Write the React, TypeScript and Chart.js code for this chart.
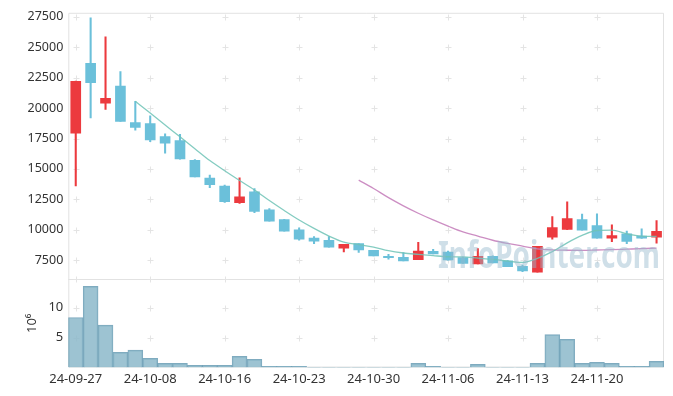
import React, { useEffect, useRef } from 'react';
import { Chart, registerables } from 'chart.js';

Chart.register(...registerables);

const dates = [
  '24-09-27', '24-09-30', '24-10-02', '24-10-04', '24-10-07',
  '24-10-08', '24-10-10', '24-10-11', '24-10-14', '24-10-15',
  '24-10-16', '24-10-17', '24-10-18', '24-10-21', '24-10-22',
  '24-10-23', '24-10-24', '24-10-25', '24-10-28', '24-10-29',
  '24-10-30', '24-10-31', '24-11-01', '24-11-04', '24-11-05',
  '24-11-06', '24-11-07', '24-11-08', '24-11-11', '24-11-12',
  '24-11-13', '24-11-14', '24-11-15', '24-11-18', '24-11-19',
  '24-11-20', '24-11-21', '24-11-22', '24-11-25', '24-11-26',
];

const opens = [
  17930, 23680, 20400, 21800, 18800, 18720, 17660, 17340, 15710, 14250,
  13600, 12220, 13110, 11650, 10830, 10000, 9310, 9130, 8480, 8860,
  8310, 7820, 7740, 7550, 8230, 8170, 7720, 7200, 7820, 7440,
  6990, 6520, 9390, 10020, 10830, 10350, 9310, 9670, 9480, 9390,
];
const highs = [
  22220, 27420, 25850, 23000, 20560, 19370, 17880, 17850, 15770, 14490,
  13680, 14270, 13380, 11750, 10850, 10160, 9450, 9450, 8800, 8860,
  8310, 7990, 8120, 8960, 8400, 8250, 7750, 8450, 7850, 7460,
  7100, 8640, 11080, 12300, 11300, 11320, 10400, 9890, 10070, 10750,
];
const lows = [
  13600, 19200, 19900, 18900, 18180, 17250, 16300, 15800, 14350, 13460,
  12240, 12160, 11400, 10700, 9880, 9150, 8860, 8580, 8180, 8130,
  7850, 7580, 7440, 7550, 8010, 7500, 7230, 7200, 7280, 6960,
  6550, 6520, 9230, 10000, 9960, 9310, 9020, 8860, 9300, 8910,
];
const closes = [
  22200, 22080, 20800, 18900, 18420, 17390, 17120, 15820, 14350, 13700,
  12320, 12700, 11510, 10700, 9880, 9230, 9070, 8580, 8800, 8340,
  7850, 7700, 7440, 8260, 8010, 7520, 7230, 7820, 7280, 6960,
  6630, 8640, 10180, 10920, 9960, 9310, 9530, 9050, 9310, 9880,
];
// volume in millions of shares
const volumes = [
  8.37, 13.58, 7.08, 2.53, 2.92, 1.53, 0.69, 0.69, 0.36, 0.36,
  0.36, 1.86, 1.36, 0.2, 0.2, 0.2, 0.03, 0.03, 0.03, 0.03,
  0.03, 0.03, 0.03, 0.69, 0.2, 0.03, 0.03, 0.52, 0.03, 0.03,
  0.03, 0.69, 5.5, 4.7, 0.69, 0.86, 0.69, 0.2, 0.2, 1.03,
];
const ma5 = [
  null, null, null, null, 20565, 19590, 18614, 17638, 16662, 15687,
  14855, 14053, 13273, 12402, 11582, 10800, 10110, 9484, 8980, 8785,
  8582, 8280, 8094, 7980, 7875, 7785, 7770, 7670, 7570, 7430,
  7320, 7650, 8200, 8930, 9540, 9940, 9970, 9670, 9480, 9450,
];
const ma20 = [
  null, null, null, null, null, null, null, null, null, null,
  null, null, null, null, null, null, null, null, null, 14085,
  13395, 12640, 11970, 11360, 10810, 10300, 9820, 9485, 9140, 8880,
  8660, 8440, 8350, 8320, 8310, 8340, 8370, 8410, 8450, 8500,
];
const priceTicks = [7500, 10000, 12500, 15000, 17500, 20000, 22500, 25000, 27500];
const volumeTicks = [5, 10];

const RED = '#ec3a3e';
const BLUE = '#6bc0da';
const FONT = "'Noto Sans', 'DejaVu Sans', sans-serif";

const decorPlugin = {
  id: 'decor',
  beforeDatasetsDraw(chart: any) {
    const { ctx, chartArea: ca, scales } = chart;
    const x = scales.x;
    const y = scales.y;
    const yv = scales.yv;
    ctx.save();
    ctx.strokeStyle = '#e2e2e2';
    ctx.lineWidth = 1;
    ctx.beginPath();
    ctx.rect(ca.left + 0.5, ca.top + 0.5, ca.right - ca.left - 1, ca.bottom - ca.top - 1);
    ctx.moveTo(ca.left, Math.round(y.bottom) + 0.5);
    ctx.lineTo(ca.right, Math.round(y.bottom) + 0.5);
    ctx.stroke();

    const xs: number[] = [];
    dates.forEach((_, i) => {
      if (i % 5 === 0) xs.push(x.getPixelForValue(i));
    });
    const ys: number[] = [];
    priceTicks.forEach((v) => ys.push(y.getPixelForValue(v)));
    volumeTicks.forEach((v) => ys.push(yv.getPixelForValue(v)));
    ys.push(y.bottom);
    ctx.strokeStyle = '#e4e4e4';
    ctx.beginPath();
    xs.forEach((px) => {
      ys.forEach((py) => {
        const cx = Math.round(px) + 0.5;
        const cy = Math.round(py) + 0.5;
        ctx.moveTo(cx - 3, cy);
        ctx.lineTo(cx + 3, cy);
        ctx.moveTo(cx, cy - 3);
        ctx.lineTo(cx, cy + 3);
      });
    });
    ctx.stroke();
    ctx.restore();
  },
  afterDatasetsDraw(chart: any) {
    const { ctx, width, height } = chart;
    const off = document.createElement('canvas');
    off.width = width;
    off.height = height;
    const o = off.getContext('2d');
    if (!o) return;
    o.font = `bold 38px ${FONT}`;
    o.fillStyle = 'rgb(150,185,205)';
    o.textBaseline = 'alphabetic';
    o.fillText('InfoPointer.com', 438, 268, 222);
    ctx.save();
    ctx.globalAlpha = 0.45;
    ctx.drawImage(off, 0, 0, width, height);
    ctx.restore();
  },
};

export default function App() {
  const ref = useRef<HTMLCanvasElement>(null);

  useEffect(() => {
    if (!ref.current) return;
    const candleColors = opens.map((o, i) => (closes[i] >= o ? RED : BLUE));
    const chart = new Chart(ref.current, {
      type: 'bar',
      data: {
        labels: dates,
        datasets: [
          {
            type: 'line',
            data: ma5 as any,
            yAxisID: 'y',
            borderColor: 'rgba(110,195,182,0.85)',
            borderWidth: 1.3,
            pointRadius: 0,
            cubicInterpolationMode: 'monotone',
            order: 0,
          } as any,
          {
            type: 'line',
            data: ma20 as any,
            yAxisID: 'y',
            borderColor: 'rgba(198,130,188,0.9)',
            borderWidth: 1.3,
            pointRadius: 0,
            cubicInterpolationMode: 'monotone',
            order: 0,
          } as any,
          {
            type: 'bar',
            data: opens.map((o, i) => [o, closes[i]]) as any,
            yAxisID: 'y',
            backgroundColor: candleColors,
            barThickness: 10,
            grouped: false,
            order: 1,
          } as any,
          {
            type: 'bar',
            data: lows.map((l, i) => [l, highs[i]]) as any,
            yAxisID: 'y',
            backgroundColor: candleColors,
            barThickness: 1.4,
            grouped: false,
            order: 2,
          } as any,
          {
            type: 'bar',
            data: volumes,
            yAxisID: 'yv',
            backgroundColor: 'rgba(140,184,202,0.85)',
            borderColor: 'rgba(95,150,175,0.8)',
            borderWidth: 1,
            barPercentage: 1,
            categoryPercentage: 1,
            grouped: false,
            order: 3,
          } as any,
        ],
      },
      options: {
        animation: false,
        responsive: true,
        maintainAspectRatio: false,
        layout: { padding: { top: 10, right: 9, left: 0, bottom: 0 } },
        plugins: { legend: { display: false }, tooltip: { enabled: false } },
        scales: {
          x: {
            type: 'category',
            offset: true,
            grid: { display: false, drawTicks: false },
            border: { display: false },
            ticks: {
              autoSkip: false,
              maxRotation: 0,
              padding: 4,
              color: '#333',
              font: { family: FONT, size: 13 },
              callback: (_v: any, i: number) => (i % 5 === 0 ? dates[i] : ''),
            },
            afterFit: (s: any) => {
              s.height = 28.5;
            },
          },
          yv: {
            type: 'linear',
            position: 'left',
            stack: 'panes',
            stackWeight: 89,
            min: 0,
            max: 14.8,
            grid: { display: false, drawTicks: false },
            border: { display: false },
            afterBuildTicks: (s: any) => {
              s.ticks = volumeTicks.map((v) => ({ value: v }));
            },
            ticks: {
              padding: 5,
              color: '#333',
              font: { family: FONT, size: 13 },
              callback: (v: any) => String(v),
            },
            title: {
              display: true,
              text: '10⁶',
              color: '#333',
              font: { family: FONT, size: 13 },
              padding: { top: 24, bottom: 0 },
            },
            afterFit: (s: any) => {
              s.width = 68.3;
            },
          },
          y: {
            type: 'linear',
            position: 'left',
            stack: 'panes',
            stackWeight: 268,
            min: 5950,
            max: 27830,
            grid: { display: false, drawTicks: false },
            border: { display: false },
            afterBuildTicks: (s: any) => {
              s.ticks = priceTicks.map((v) => ({ value: v }));
            },
            ticks: {
              padding: 5,
              color: '#333',
              font: { family: FONT, size: 12.5 },
              callback: (v: any) => String(v),
            },
            afterFit: (s: any) => {
              s.width = 68.3;
            },
          },
        },
      } as any,
      plugins: [decorPlugin],
    });
    return () => chart.destroy();
  }, []);

  return (
    <div style={{ position: 'absolute', left: 0, top: 0, width: 673, height: 396, background: '#fff' }}>
      <canvas ref={ref} />
    </div>
  );
}
